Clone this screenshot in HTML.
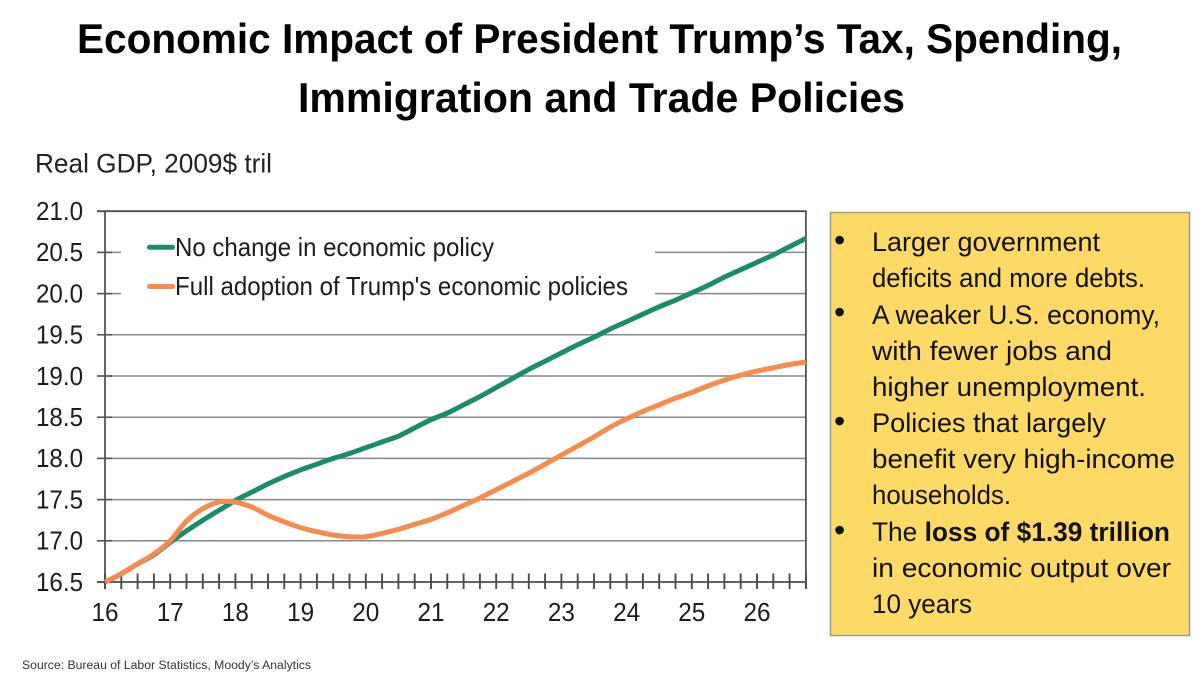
<!DOCTYPE html>
<html lang="en">
<head>
<meta charset="utf-8">
<title>Economic Impact of President Trump's Policies</title>
<style>
  html, body { margin: 0; padding: 0; background: #fff; }
  body { width: 1200px; height: 677px; overflow: hidden; }
  svg { display: block; }
  text { font-family: "Liberation Sans", sans-serif; }
</style>
</head>
<body>
<svg id="slide" xmlns="http://www.w3.org/2000/svg" width="1200" height="677" viewBox="0 0 1200 677">
  <g font-weight="bold" font-size="42" fill="#000">
    <text x="77" y="53" textLength="1045" lengthAdjust="spacingAndGlyphs">Economic Impact of President Trump’s Tax, Spending,</text>
    <text x="298" y="112" textLength="607" lengthAdjust="spacingAndGlyphs">Immigration and Trade Policies</text>
  </g>

  <text x="35" y="172.5" font-size="27" fill="#222" textLength="237" lengthAdjust="spacingAndGlyphs">Real GDP, 2009$ tril</text>

  <g id="chart"></g>

  <g>
    <rect x="830.5" y="212.5" width="359" height="423" fill="#FFD966" stroke="#9a9a90" stroke-width="1.5"/>
    <g font-size="26.5" fill="#111">
      <text x="834" y="251" font-size="32">•</text>
      <text x="872" y="251" textLength="228" lengthAdjust="spacingAndGlyphs">Larger government</text>
      <text x="872" y="287" textLength="273" lengthAdjust="spacingAndGlyphs">deficits and more debts.</text>
      <text x="834" y="323" font-size="32">•</text>
      <text x="872" y="324" textLength="288" lengthAdjust="spacingAndGlyphs">A weaker U.S. economy,</text>
      <text x="872" y="360" textLength="240" lengthAdjust="spacingAndGlyphs">with fewer jobs and</text>
      <text x="872" y="396" textLength="274" lengthAdjust="spacingAndGlyphs">higher unemployment.</text>
      <text x="834" y="432" font-size="32">•</text>
      <text x="872" y="432" textLength="234" lengthAdjust="spacingAndGlyphs">Policies that largely</text>
      <text x="872" y="468" textLength="303" lengthAdjust="spacingAndGlyphs">benefit very high-income</text>
      <text x="872" y="504" textLength="139" lengthAdjust="spacingAndGlyphs">households.</text>
      <text x="834" y="541" font-size="32">•</text>
      <text x="872" y="541" textLength="298" lengthAdjust="spacingAndGlyphs">The <tspan font-weight="bold">loss of $1.39 trillion</tspan></text>
      <text x="872" y="577" textLength="299" lengthAdjust="spacingAndGlyphs">in economic output over</text>
      <text x="872" y="613" textLength="100" lengthAdjust="spacingAndGlyphs">10 years</text>
    </g>
  </g>

  <text x="22" y="669" font-size="11.5" fill="#333" textLength="289" lengthAdjust="spacingAndGlyphs">Source: Bureau of Labor Statistics, Moody’s Analytics</text>
</svg>

<script>
const yTicks = [21.0, 20.5, 20.0, 19.5, 19.0, 18.5, 18.0, 17.5, 17.0, 16.5];
const xLabels = [16, 17, 18, 19, 20, 21, 22, 23, 24, 25, 26];
const startYear = 16;
const quartersPerYear = 4;
const noChangeName = "No change in economic policy";
const fullAdoptionName = "Full adoption of Trump's economic policies";
// quarterly real GDP, 2009$ tril, from 2016Q1
const noChange = [16.50, 16.60, 16.72, 16.83, 16.98, 17.12, 17.25, 17.37,
  17.49, 17.59, 17.69, 17.78, 17.86, 17.93, 18.00, 18.06,
  18.13, 18.20, 18.27, 18.37, 18.47, 18.55, 18.65, 18.75,
  18.86, 18.97, 19.08, 19.18, 19.28, 19.38, 19.47, 19.57,
  19.66, 19.75, 19.84, 19.92, 20.01, 20.10, 20.20, 20.29,
  20.38, 20.47, 20.57, 20.67];
const fullAdoption = [16.50, 16.60, 16.72, 16.84, 17.00, 17.24, 17.39, 17.47,
  17.47, 17.41, 17.31, 17.23, 17.16, 17.11, 17.07, 17.05,
  17.05, 17.09, 17.14, 17.20, 17.26, 17.34, 17.43, 17.52,
  17.62, 17.72, 17.82, 17.93, 18.04, 18.15, 18.26, 18.38,
  18.48, 18.57, 18.65, 18.73, 18.80, 18.88, 18.95, 19.01,
  19.06, 19.10, 19.14, 19.17];

const NS = "http://www.w3.org/2000/svg";
const chart = document.getElementById("chart");
const xOf = function (year) { return 105 + (year - 16) * 65.2; };
const yOf = function (v) { return 582 - (v - 16.5) * 82.4; };
const plotRight = xOf(startYear + (noChange.length - 1) / quartersPerYear);

function make(tag, attrs) {
  const el = document.createElementNS(NS, tag);
  Object.keys(attrs).forEach(function (k) { el.setAttribute(k, attrs[k]); });
  chart.appendChild(el);
  return el;
}

// gridlines and y tick labels
yTicks.forEach(function (v) {
  const y = yOf(v);
  const edge = v === 21.0 || v === 16.5;
  const g = make("line", { x1: 97, x2: plotRight, y1: y, y2: y, stroke: edge ? "#4d4d4d" : "#85878c", "stroke-width": edge ? 1.8 : 1.5 });
  
  
  const s = make("line", { x1: 97, x2: 112, y1: y, y2: y, stroke: "#4d4d4d", "stroke-width": 1.5 });
  
  
  const t = make("text", { x: 83, y: y + 8.8, "text-anchor": "end", "font-size": 26, fill: "#1c1c1c", textLength: 47, lengthAdjust: "spacingAndGlyphs" });
  
  
  t.textContent = v.toFixed(1);
});

// blank area behind the legend interrupts the upper gridlines
const legendBg = make("rect", { x: 121, y: 225, width: 534, height: 88, fill: "#fff" });



// axes frame
const yAxis = make("line", { x1: xOf(16), x2: xOf(16), y1: yOf(21) - 1, y2: 589, stroke: "#555", "stroke-width": 1.8 });


const rightEdge = make("line", { x1: plotRight, x2: plotRight, y1: yOf(21) - 1, y2: 589, stroke: "#555", "stroke-width": 1.8 });



// quarterly x ticks
noChange.forEach(function (_, i) {
  const x = xOf(startYear + i / quartersPerYear);
  const tick = make("line", { x1: x, x2: x, y1: 573.5, y2: 589, stroke: "#4a4a4a", "stroke-width": 1.9 });
  
  
});

xLabels.forEach(function (year) {
  const t = make("text", { x: xOf(year), y: 621, "text-anchor": "middle", "font-size": 26, fill: "#1c1c1c", textLength: 27, lengthAdjust: "spacingAndGlyphs" });
  
  
  t.textContent = String(year);
});

// smooth curve through the quarterly values
function pathFor(values) {
  const px = values.map(function (_, i) { return xOf(startYear + i / quartersPerYear); });
  const py = values.map(yOf);
  let d = "M" + px[0].toFixed(1) + "," + py[0].toFixed(1);
  for (let i = 0; i < values.length - 1; i++) {
    const a = Math.max(i - 1, 0);
    const b = Math.min(i + 2, values.length - 1);
    d += " C" + (px[i] + (px[i + 1] - px[a]) / 6).toFixed(1) + "," + (py[i] + (py[i + 1] - py[a]) / 6).toFixed(1) +
      " " + (px[i + 1] - (px[b] - px[i]) / 6).toFixed(1) + "," + (py[i + 1] - (py[b] - py[i]) / 6).toFixed(1) +
      " " + px[i + 1].toFixed(1) + "," + py[i + 1].toFixed(1);
  }
  return d;
}

const clip = document.createElementNS(NS, "clipPath");
clip.setAttribute("id", "plot-clip");
const clipRect = document.createElementNS(NS, "rect");
clipRect.setAttribute("x", 100);
clipRect.setAttribute("y", 205);
clipRect.setAttribute("width", plotRight - 100);
clipRect.setAttribute("height", 385);
clip.appendChild(clipRect);
chart.appendChild(clip);

const lineGreen = make("path", { d: pathFor(noChange), fill: "none", stroke: "#1B8C6B", "stroke-width": 5, "stroke-linejoin": "round", "clip-path": "url(#plot-clip)" });



const lineOrange = make("path", { d: pathFor(fullAdoption), fill: "none", stroke: "#F58B4C", "stroke-width": 5, "stroke-linejoin": "round", "clip-path": "url(#plot-clip)" });



// legend
const key1 = make("line", { x1: 149.5, x2: 172.5, y1: 247.3, y2: 247.3, stroke: "#1B8C6B", "stroke-width": 5, "stroke-linecap": "round" });


const label1 = make("text", { x: 175, y: 256, "font-size": 26, fill: "#1c1c1c", textLength: 319, lengthAdjust: "spacingAndGlyphs" });


label1.textContent = noChangeName;
const key2 = make("line", { x1: 149.5, x2: 172.5, y1: 286.5, y2: 286.5, stroke: "#F58B4C", "stroke-width": 5, "stroke-linecap": "round" });


const label2 = make("text", { x: 175, y: 295, "font-size": 26, fill: "#1c1c1c", textLength: 453, lengthAdjust: "spacingAndGlyphs" });


label2.textContent = fullAdoptionName;
</script>
</body>
</html>
